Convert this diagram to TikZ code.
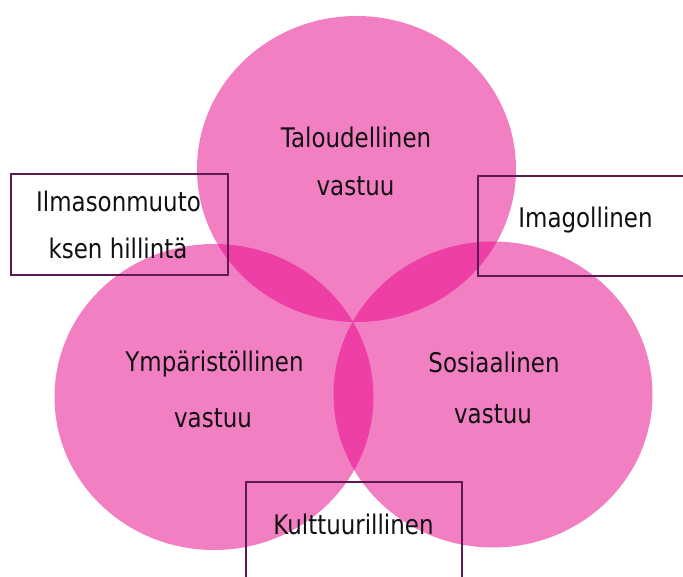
\documentclass[tikz,border=0pt]{standalone}
\usepackage{fontspec}
\setmainfont{DejaVu Sans}[FakeStretch=0.85]
\usetikzlibrary{shapes.geometric}
\definecolor{circpink}{RGB}{233,0,137}
\definecolor{boxline}{RGB}{92,26,78}
\definecolor{txt}{RGB}{17,17,17}
\tikzset{
  venn/.style={ellipse, inner sep=0pt, minimum width=319pt, minimum height=306pt, fill=circpink, fill opacity=0.5, draw=none},
  lbl/.style={anchor=base, inner sep=0pt, text=txt, font=\fontsize{27}{32}\selectfont},
  framebox/.style={draw=boxline, line width=1.8pt}
}
\begin{document}
\begin{tikzpicture}[x=1pt, y=-1pt]
\clip (0,0) rectangle (683,577);
\fill[white] (0,0) rectangle (683,577);
% circles
\node[venn] (top) at (356.5,169) {};
\node[venn] (left) at (214,397) {};
\node[venn] (right) at (493,394.5) {};
% boxes
\draw[framebox] (11,174) rectangle (228,275);
\draw[framebox] (478,176) rectangle (720,276);
\draw[framebox] (246,482) rectangle (462,620);
% labels
\node[lbl] (t1) at (356,148) {Taloudellinen};
\node[lbl] (t2) at (355.5,196) {vastuu};
\node[lbl] (l1) at (214.5,371) {Ympäristöllinen};
\node[lbl] (l2) at (213,427) {vastuu};
\node[lbl] (r1) at (494,373) {Sosiaalinen};
\node[lbl] (r2) at (493,423) {vastuu};
\node[lbl] (b1) at (118.5,212) {Ilmasonmuuto};
\node[lbl] (b2) at (118,259) {ksen hillintä};
\node[lbl] (b3) at (585.5,228) {Imagollinen};
\node[lbl] (b4) at (353.5,534) {Kulttuurillinen};
\end{tikzpicture}
\end{document}
